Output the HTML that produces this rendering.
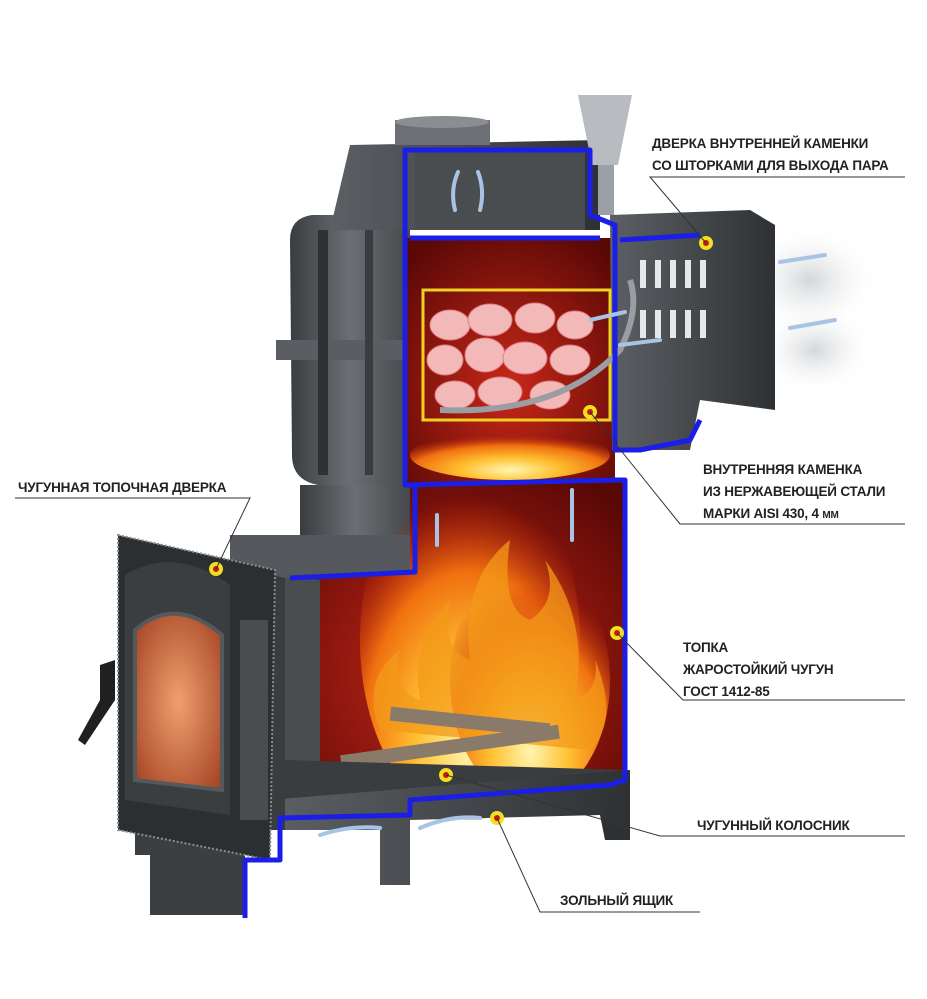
<!DOCTYPE html>
<html><head><meta charset="utf-8"><style>
html,body{margin:0;padding:0;background:#fff;}
svg{display:block;}
text{font-family:"Liberation Sans",sans-serif;font-weight:bold;font-size:13.5px;fill:#222;letter-spacing:-0.2px;}
</style></head><body>
<svg width="927" height="999" viewBox="0 0 927 999" xmlns="http://www.w3.org/2000/svg">
<defs>
<linearGradient id="g1" x1="0" x2="1"><stop offset="0" stop-color="#3a3d40"/><stop offset=".5" stop-color="#6b6f73"/><stop offset="1" stop-color="#45484b"/></linearGradient>
<linearGradient id="g2" x1="0" x2="1"><stop offset="0" stop-color="#5c6064"/><stop offset="1" stop-color="#2e3134"/></linearGradient>
<radialGradient id="red1" cx=".5" cy=".6" r=".7"><stop offset="0" stop-color="#c82818"/><stop offset="1" stop-color="#5a0806"/></radialGradient>
<radialGradient id="fire" cx=".5" cy=".8" r=".7"><stop offset="0" stop-color="#fff6b0"/><stop offset=".35" stop-color="#ffc030"/><stop offset=".7" stop-color="#f07010"/><stop offset="1" stop-color="#c02a08" stop-opacity="0"/></radialGradient>
<radialGradient id="glass" cx=".5" cy=".5" r=".7"><stop offset="0" stop-color="#f0a070"/><stop offset="1" stop-color="#a04020"/></radialGradient>
<radialGradient id="steam" cx=".5" cy=".5" r=".5"><stop offset="0" stop-color="#c8cbcf" stop-opacity=".8"/><stop offset="1" stop-color="#fff" stop-opacity="0"/></radialGradient>
</defs>

<ellipse cx="810" cy="280" rx="70" ry="55" fill="url(#steam)"/>
<ellipse cx="815" cy="350" rx="60" ry="45" fill="url(#steam)"/>

<path d="M290 240 Q290 218 312 215 L410 215 L410 485 L318 485 Q292 480 292 455 Z" fill="url(#g1)"/>
<rect x="276" y="340" width="140" height="20" fill="#5a5e62"/>
<rect x="318" y="230" width="10" height="245" fill="#2f3235"/>
<rect x="365" y="230" width="8" height="245" fill="#3a3d40"/>
<path d="M350 145 L600 140 L600 230 L330 230 Z" fill="url(#g2)"/>
<rect x="395" y="120" width="95" height="25" fill="#6c7075"/>
<ellipse cx="442" cy="122" rx="47" ry="6" fill="#8a8e92"/>
<path d="M578 95 L632 95 L618 165 L592 165 Z" fill="#b8bcc0"/>
<rect x="598" y="165" width="16" height="50" fill="#9aa0a5"/>

<path d="M405 238 L615 238 L615 485 L405 485 Z" fill="url(#red1)"/>
<rect x="415" y="150" width="170" height="80" fill="#4a4d50"/>
<path d="M610 215 L750 210 L775 225 L775 410 L700 400 L690 450 L612 450 Z" fill="url(#g2)"/>
<g fill="#e8e8e8">
<rect x="640" y="260" width="6" height="28"/><rect x="655" y="260" width="6" height="28"/><rect x="670" y="260" width="6" height="28"/><rect x="685" y="260" width="6" height="28"/><rect x="700" y="260" width="6" height="28"/>
<rect x="640" y="310" width="6" height="28"/><rect x="655" y="310" width="6" height="28"/><rect x="670" y="310" width="6" height="28"/><rect x="685" y="310" width="6" height="28"/><rect x="700" y="310" width="6" height="28"/>
</g>
<rect x="423" y="290" width="187" height="130" fill="none" stroke="#f0d020" stroke-width="3"/>
<g fill="#f3b8b8" stroke="#e07d85" stroke-width="1">
<ellipse cx="450" cy="325" rx="20" ry="15"/><ellipse cx="490" cy="320" rx="22" ry="16"/><ellipse cx="535" cy="318" rx="20" ry="15"/><ellipse cx="575" cy="325" rx="18" ry="14"/>
<ellipse cx="445" cy="360" rx="18" ry="15"/><ellipse cx="485" cy="355" rx="20" ry="17"/><ellipse cx="525" cy="358" rx="22" ry="16"/><ellipse cx="570" cy="360" rx="20" ry="15"/>
<ellipse cx="455" cy="395" rx="20" ry="14"/><ellipse cx="500" cy="392" rx="22" ry="15"/><ellipse cx="550" cy="395" rx="20" ry="14"/>
</g>
<path d="M440 410 Q560 415 620 350 Q640 310 630 280" fill="none" stroke="#9a9ea2" stroke-width="6"/>
<ellipse cx="510" cy="455" rx="100" ry="25" fill="url(#fire)"/>

<path d="M300 485 L410 485 L410 570 L300 575 Z" fill="url(#g1)"/>
<path d="M285 575 L410 570 L410 485 L625 480 L625 780 L285 800 Z" fill="url(#red1)"/>
<path d="M285 575 L320 580 L320 770 L285 800 Z" fill="#4a4d50"/>
<ellipse cx="470" cy="640" rx="110" ry="180" fill="url(#fire)"/>
<ellipse cx="530" cy="680" rx="80" ry="120" fill="url(#fire)"/>
<path d="M380 730 Q360 680 400 650 Q390 690 420 700 Q410 640 450 600 Q440 650 470 660 Q460 580 510 540 Q500 610 530 620 Q560 600 545 560 Q590 620 575 700 Q600 690 595 660 Q620 720 590 750 Z" fill="#f39a1a" opacity=".75"/>
<g fill="#8a7a6a"><rect x="340" y="740" width="220" height="14" transform="rotate(-8 450 747)"/><rect x="390" y="715" width="160" height="14" transform="rotate(6 470 722)"/></g>
<path d="M285 800 L625 780 L625 770 L285 760 Z" fill="#3a3d40"/>
<path d="M270 800 L630 770 L630 835 L610 835 L600 815 L410 820 L410 885 L380 885 L380 830 L270 830 Z" fill="url(#g2)"/>
<path d="M600 815 L630 835 L630 840 L605 840 Z" fill="#2e3134"/>
<path d="M135 830 L245 830 L245 915 L150 915 L150 855 L135 855 Z" fill="#3c3f42"/>
<path d="M230 545 L285 545 L285 830 L230 830 Z" fill="#3a3d40"/>
<path d="M230 535 L410 535 L410 575 L285 578 L230 565 Z" fill="#55585c"/>
<path d="M118 535 L275 570 L270 860 L118 830 Z" fill="#2c2f32" stroke="#8a8e92" stroke-width="2" stroke-dasharray="2 2"/>
<path d="M125 575 Q175 545 230 585 L230 815 L125 800 Z" fill="#3b3e41"/>
<path d="M135 630 Q175 595 222 635 L222 790 L135 780 Z" fill="url(#glass)" stroke="#55585c" stroke-width="4"/>
<rect x="240" y="620" width="28" height="200" fill="#4a4d50"/>
<path d="M100 665 L115 660 L115 700 L85 745 L78 740 L100 700 Z" fill="#1e2022"/>

<g fill="none" stroke="#1a1ee6" stroke-width="5" stroke-linejoin="round">
<path d="M420 150 L405 150 L405 485 L415 485 L415 572 L290 578"/>
<path d="M580 150 L590 150 L590 215 L615 225 L615 450 L640 450 L690 440 L700 420"/>
<path d="M405 485 L615 480 L625 480 L625 780 L610 785 L410 800 L410 815 L280 818 L280 860 L245 860 L245 918"/>
<path d="M405 150 L585 150"/>
<path d="M620 240 L700 235 M410 238 L600 238"/>
</g>
<g fill="none" stroke="#a8c4e4" stroke-width="4" stroke-linecap="round">
<path d="M455 210 Q450 190 458 172"/><path d="M480 210 Q485 190 478 172"/>
<path d="M437 545 L437 515"/><path d="M572 540 L572 490"/>
<path d="M320 835 Q350 825 380 828"/><path d="M420 828 Q450 815 480 818"/>
<path d="M780 262 L825 255"/><path d="M790 328 L835 320"/>
<path d="M590 320 L625 312"/><path d="M620 345 L660 340"/>
</g>
<g stroke="#f0e020" stroke-width="4" fill="#c81818">
<circle cx="706" cy="243" r="5"/><circle cx="590" cy="412" r="5"/><circle cx="216" cy="569" r="5"/>
<circle cx="617" cy="633" r="5"/><circle cx="446" cy="775" r="5"/><circle cx="497" cy="818" r="5"/>
</g>
<g stroke="#333" stroke-width="1" fill="none">
<path d="M905 177 L650 177 L706 243"/>
<path d="M15 498 L250 498 L216 569"/>
<path d="M905 524 L680 524 L590 412"/>
<path d="M905 700 L683 700 L617 633"/>
<path d="M905 836 L660 836 L446 775"/>
<path d="M700 912 L540 912 L497 818"/>
</g>
<text x="652" y="148">ДВЕРКА ВНУТРЕННЕЙ КАМЕНКИ</text>
<text x="652" y="170">СО ШТОРКАМИ ДЛЯ ВЫХОДА ПАРА</text>
<text x="18" y="492">ЧУГУННАЯ ТОПОЧНАЯ ДВЕРКА</text>
<text x="703" y="474">ВНУТРЕННЯЯ КАМЕНКА</text>
<text x="703" y="496">ИЗ НЕРЖАВЕЮЩЕЙ СТАЛИ</text>
<text x="703" y="518">МАРКИ AISI 430,  4 <tspan font-size="10">ММ</tspan></text>
<text x="683" y="652">ТОПКА</text>
<text x="683" y="674">ЖАРОСТОЙКИЙ ЧУГУН</text>
<text x="683" y="696">ГОСТ 1412-85</text>
<text x="697" y="830">ЧУГУННЫЙ КОЛОСНИК</text>
<text x="560" y="905">ЗОЛЬНЫЙ ЯЩИК</text>
</svg>
</body></html>
